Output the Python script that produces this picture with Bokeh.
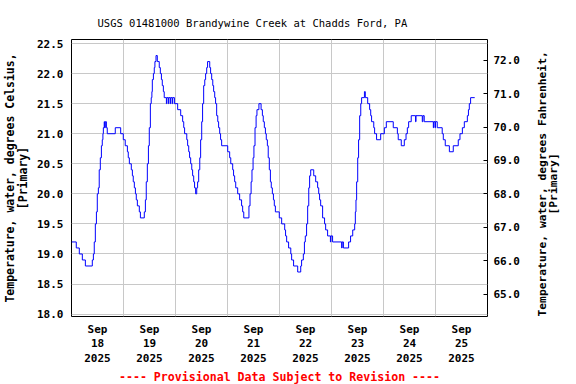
import math
from bokeh.plotting import figure
from bokeh.models import Range1d, LinearAxis, FixedTicker, Title, PrintfTickFormatter
from bokeh.embed import file_html
from bokeh.resources import INLINE

# hours since 2025-09-18 00:00 (step change points) and water temperature, deg C
hours = [0, 2.2, 3.6, 5.0, 6.4, 9.6, 10.1, 10.5, 11.0, 11.5, 11.9, 12.4, 12.8, 13.3, 13.8,
         14.2, 14.5, 14.7, 15.1, 15.3, 15.6, 16.1, 16.5, 20.2, 22.7, 23.9, 24.8, 25.8, 26.2,
         26.7, 27.6, 28.1, 28.5, 29.0, 29.5, 29.9, 30.4, 31.3, 31.8, 33.6, 34.1, 34.5, 35.0,
         35.5, 35.9, 36.4, 36.8, 37.1, 37.3, 37.8, 38.2, 38.5, 39.0, 39.6, 40.5, 41.0, 41.5,
         41.9, 42.4, 42.8, 43.8, 44.0, 44.7, 44.9, 45.6, 45.8, 46.5, 46.7, 47.5, 49.0,
         50.4, 51.3, 51.8, 52.2, 53.2, 53.6, 54.1, 54.5, 55.0, 55.5, 55.9, 56.4, 56.8, 57.3,
         57.8, 58.2, 58.7, 59.2, 59.6, 60.1, 60.5, 61.0, 61.5, 61.9, 62.4, 62.8, 63.8, 64.2,
         64.7, 65.2, 65.6, 66.1, 66.5, 67.0, 67.5, 67.9, 68.4, 68.8, 69.3, 72.1, 73.0, 73.5,
         74.4, 74.8, 75.3, 75.8, 76.7, 77.6, 78.5, 79.0, 79.5, 81.9, 82.4, 82.9, 83.3, 83.8,
         84.2, 84.7, 85.2, 85.6, 86.5, 87.5, 88.1, 88.5, 89.0, 89.5, 89.9, 90.4, 90.8, 91.3,
         91.8, 92.2, 92.7, 93.2, 93.6, 94.1, 95.9, 97.0, 98.4, 98.8, 99.3, 100.2, 101.2,
         101.6, 102.5, 104.4, 105.8, 106.2, 107.0, 107.5, 107.9, 108.5, 109.0, 109.5, 109.9,
         110.4, 111.8, 112.7, 113.6, 114.1, 114.5, 115.0, 115.9, 116.8, 117.3, 118.2, 119.5,
         119.7, 120.5, 124.7, 124.9, 125.5, 127.9, 128.8, 129.8, 130.7, 131.0, 131.3, 131.6,
         132.1, 132.5, 133.0, 133.5, 133.9, 135.2, 135.6, 136.7, 137.6, 138.1, 138.5, 139.5,
         139.9, 140.8, 142.7, 144.4, 145.3, 148.5, 150.4, 150.8, 152.2, 153.6, 154.4, 155.0,
         155.6, 156.8, 158.8, 159.0, 161.9, 162.2, 162.8, 167.0, 167.2, 167.8, 168.0, 168.8,
         171.1, 171.6, 172.5, 174.4, 176.2, 178.5, 179.3, 180.4, 181.3, 182.7, 183.2, 183.6,
         184.2, 186.1]
temps_c = [19.2, 19.1, 19.0, 18.9, 18.8, 18.9, 19.0, 19.2, 19.5, 19.7, 20.0, 20.1, 20.4, 20.6, 20.8,
           20.9, 21.0, 21.1, 21.2, 21.1, 21.2, 21.1, 21.0, 21.1, 21.0, 20.9, 20.8, 20.7, 20.6,
           20.5, 20.4, 20.3, 20.2, 20.1, 20.0, 19.9, 19.8, 19.7, 19.6, 19.7, 19.9, 20.2, 20.5,
           20.8, 21.1, 21.5, 21.6, 21.7, 21.9, 22.0, 22.1, 22.2, 22.3, 22.2, 22.1, 22.0, 21.9,
           21.8, 21.7, 21.6, 21.5, 21.6, 21.5, 21.6, 21.5, 21.6, 21.5, 21.6, 21.5, 21.4,
           21.3, 21.2, 21.1, 21.0, 20.9, 20.8, 20.7, 20.6, 20.5, 20.4, 20.3, 20.2, 20.1, 20.0,
           20.1, 20.2, 20.4, 20.6, 20.9, 21.2, 21.5, 21.8, 21.9, 22.0, 22.1, 22.2, 22.1, 22.0,
           21.9, 21.8, 21.7, 21.6, 21.5, 21.3, 21.2, 21.1, 21.0, 20.9, 20.8, 20.7, 20.6, 20.5,
           20.4, 20.3, 20.2, 20.1, 20.0, 19.9, 19.8, 19.7, 19.6, 19.8, 20.0, 20.2, 20.4, 20.6,
           20.8, 21.1, 21.3, 21.4, 21.5, 21.4, 21.3, 21.2, 21.1, 21.0, 20.9, 20.8, 20.6, 20.4,
           20.2, 20.1, 20.0, 19.9, 19.8, 19.7, 19.6, 19.5, 19.4, 19.3, 19.2, 19.1, 19.0,
           18.9, 18.8, 18.7, 18.8, 18.9, 19.0, 19.2, 19.3, 19.5, 19.8, 20.1, 20.3,
           20.4, 20.3, 20.2, 20.1, 20.0, 19.9, 19.8, 19.6, 19.5, 19.4, 19.3, 19.2,
           19.3, 19.2, 19.1, 19.2, 19.1, 19.2, 19.3, 19.4, 19.5, 19.7, 19.9, 20.2,
           20.6, 20.9, 21.3, 21.5, 21.6, 21.7, 21.6, 21.5, 21.4, 21.3, 21.2, 21.1,
           21.0, 20.9, 21.0, 21.1, 21.2, 21.1, 21.0, 20.9, 20.8, 20.9, 21.0, 21.1,
           21.2, 21.3, 21.2, 21.3, 21.2, 21.3, 21.2, 21.1, 21.2, 21.1, 21.2, 21.1,
           21.0, 20.9, 20.8, 20.7, 20.8, 20.9, 21.0, 21.1, 21.2, 21.3, 21.4, 21.5,
           21.6, 21.6]

day_centers = [12, 36, 60, 84, 108, 132, 156, 180]
day_labels = ["Sep\n18\n2025", "Sep\n19\n2025", "Sep\n20\n2025", "Sep\n21\n2025",
              "Sep\n22\n2025", "Sep\n23\n2025", "Sep\n24\n2025", "Sep\n25\n2025"]
day_bounds = [24, 48, 72, 96, 120, 144, 168]
c_ticks = [18.0, 18.5, 19.0, 19.5, 20.0, 20.5, 21.0, 21.5, 22.0, 22.5]
f_ticks = [65, 66, 67, 68, 69, 70, 71, 72]

title_text = "USGS 01481000 Brandywine Creek at Chadds Ford, PA"
left_label = "Temperature, water, degrees Celsius,\n[Primary]"
right_line1 = "Temperature, water, degrees Fahrenheit,"
right_line2 = "[Primary]"
note_text = "---- Provisional Data Subject to Revision ----"

FONT = "DejaVu Sans Mono"
c_lo, c_hi = 17.96, 22.567
x_lo, x_hi = 0, 192

p = figure(width=576, height=384, output_backend="svg", toolbar_location=None,
           x_range=Range1d(x_lo, x_hi), y_range=Range1d(c_lo, c_hi),
           min_border_left=71, min_border_right=89, min_border_top=39, min_border_bottom=68)
p.background_fill_color = "white"
p.border_fill_color = "white"
p.outline_line_color = "black"
p.outline_line_width = 1

# title
p.title.text = title_text
p.title.align = "left"
p.title.offset = 26
p.title.standoff = 22
p.title.text_font = FONT
p.title.text_font_size = "10.5px"
p.title.text_font_style = "normal"
p.title.text_color = "black"

p.step(hours, temps_c, mode="after", line_color="#0000ff", line_width=1)

def style_axis(ax, standoff):
    ax.major_tick_out = 0
    ax.major_tick_in = 0
    ax.minor_tick_out = 0
    ax.minor_tick_in = 0
    ax.axis_line_color = None
    ax.major_label_standoff = standoff
    ax.major_label_text_font = FONT
    ax.major_label_text_font_style = "bold"
    ax.major_label_text_font_size = "11px"
    ax.major_label_text_color = "black"
    ax.axis_label_text_font = FONT
    ax.axis_label_text_font_style = "bold"
    ax.axis_label_text_font_size = "11.5px"
    ax.axis_label_text_color = "black"
    ax.axis_label_text_line_height = 0.9

# left axis (Celsius)
ya = p.yaxis[0]
ya.ticker = FixedTicker(ticks=c_ticks)
ya.formatter = PrintfTickFormatter(format="%.1f")
style_axis(ya, 8)
ya.axis_label = left_label
ya.axis_label_standoff = 4

# bottom axis (days)
xa = p.xaxis[0]
xa.ticker = FixedTicker(ticks=day_centers)
xa.major_label_overrides = {c: l for c, l in zip(day_centers, day_labels)}
style_axis(xa, 6)
xa.major_label_text_line_height = 1.12

# right axis (Fahrenheit)
p.extra_y_ranges = {"f": Range1d(c_lo * 1.8 + 32, c_hi * 1.8 + 32)}
ra = LinearAxis(y_range_name="f", ticker=FixedTicker(ticks=f_ticks),
                formatter=PrintfTickFormatter(format="%.1f"))
style_axis(ra, 6)
ra.major_tick_in = 4
ra.major_tick_line_color = "black"
pad = "\u00a0" * ((len(right_line1) - len(right_line2)) // 2)
ra.axis_label = right_line1 + "\n" + pad + right_line2
ra.axis_label_standoff = 25
ra.axis_label_text_font_size = "11.3px"
if hasattr(ra, "axis_label_orientation"):
    ra.axis_label_orientation = math.pi / 2
    ra.axis_label_align = "start"
p.add_layout(ra, "right")

# grids
p.xgrid.ticker = FixedTicker(ticks=day_bounds)
p.ygrid.ticker = FixedTicker(ticks=c_ticks)
for g in (p.xgrid[0], p.ygrid[0]):
    g.grid_line_color = "#c8c8c8"
    g.grid_line_width = 1

# provisional-data note below the chart
note = Title(text=note_text, align="center", offset=-2, standoff=0,
             text_font=FONT, text_font_size="11.6px", text_font_style="bold",
             text_color="#ff0000")
p.add_layout(note, "below")

open("out.html", "w").write(file_html(p, INLINE))
